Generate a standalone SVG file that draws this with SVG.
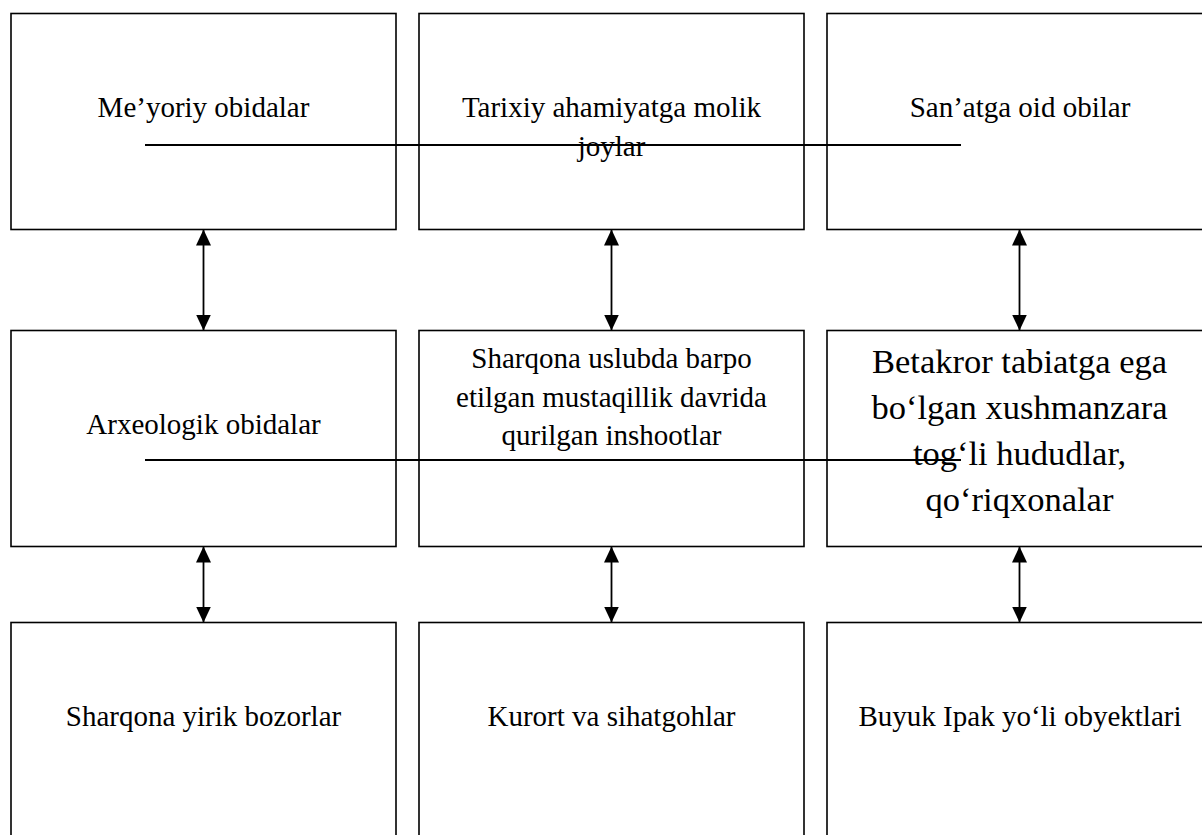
<svg xmlns="http://www.w3.org/2000/svg" width="1202" height="835" viewBox="0 0 1202 835">
<style>
.box{fill:#fff;stroke:#000;stroke-width:1.6}
.t{font-family:"Liberation Serif","Times New Roman",serif;font-size:29px;fill:#000;text-anchor:middle}
.tb{font-family:"Liberation Serif","Times New Roman",serif;font-size:34.5px;fill:#000;text-anchor:middle}
.ln{stroke:#000;stroke-width:1.8;fill:none}
.ar{stroke:#000;stroke-width:1.8;fill:none;marker-start:url(#ah);marker-end:url(#ah)}
</style>
<defs>
<marker id="ah" viewBox="0 0 16 15" refX="16" refY="7.5" markerWidth="16" markerHeight="15" markerUnits="userSpaceOnUse" orient="auto-start-reverse">
<path d="M0,0 L16,7.5 L0,15 Z" fill="#000"/>
</marker>
</defs>
<rect width="1202" height="835" fill="#fff"/>
<g id="n1"><rect class="box" x="11" y="13.5" width="385" height="216"/><text class="t" x="203.5" y="117">Me’yoriy obidalar</text></g>
<g id="n2"><rect class="box" x="419" y="13.5" width="385" height="216"/><text class="t" x="611.5" y="117">Tarixiy ahamiyatga molik</text><text class="t" x="611.5" y="155.5">joylar</text></g>
<g id="n3"><rect class="box" x="827" y="13.5" width="386" height="216"/><text class="t" x="1020" y="117">San’atga oid obilar</text></g>
<g id="n4"><rect class="box" x="11" y="330.5" width="385" height="216"/><text class="t" x="203.5" y="433.5">Arxeologik obidalar</text></g>
<g id="n5"><rect class="box" x="419" y="330.5" width="385" height="216"/><text class="t" x="611.5" y="368">Sharqona uslubda barpo</text><text class="t" x="611.5" y="406.5">etilgan mustaqillik davrida</text><text class="t" x="611.5" y="445">qurilgan inshootlar</text></g>
<g id="n6"><rect class="box" x="827" y="330.5" width="386" height="216"/><text class="tb" x="1019.5" y="373">Betakror tabiatga ega</text><text class="tb" x="1019.5" y="419">bo‘lgan xushmanzara</text><text class="tb" x="1019.5" y="465">tog‘li hududlar,</text><text class="tb" x="1019.5" y="510.5">qo‘riqxonalar</text></g>
<g id="n7"><rect class="box" x="11" y="622.5" width="385" height="216"/><text class="t" x="203.5" y="726">Sharqona yirik bozorlar</text></g>
<g id="n8"><rect class="box" x="419" y="622.5" width="385" height="216"/><text class="t" x="611.5" y="726">Kurort va sihatgohlar</text></g>
<g id="n9"><rect class="box" x="827" y="622.5" width="386" height="216"/><text class="t" x="1020" y="725.5">Buyuk Ipak yo‘li obyektlari</text></g>
<g id="connectors">
<line class="ln" x1="145" y1="145" x2="961" y2="145"/>
<line class="ln" x1="145" y1="460" x2="961" y2="460"/>
<line class="ar" x1="203.5" y1="229.5" x2="203.5" y2="330.5"/>
<line class="ar" x1="611.5" y1="229.5" x2="611.5" y2="330.5"/>
<line class="ar" x1="1019.5" y1="229.5" x2="1019.5" y2="330.5"/>
<line class="ar" x1="203.5" y1="546.5" x2="203.5" y2="622.5"/>
<line class="ar" x1="611.5" y1="546.5" x2="611.5" y2="622.5"/>
<line class="ar" x1="1019.5" y1="546.5" x2="1019.5" y2="622.5"/>
</g>
</svg>
